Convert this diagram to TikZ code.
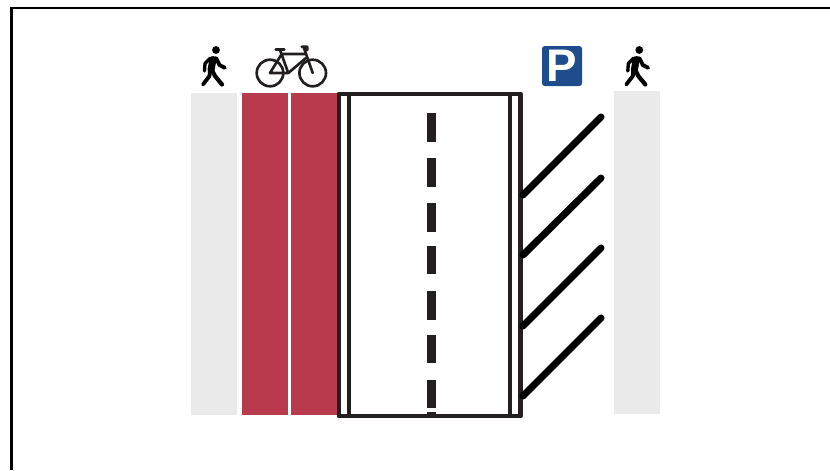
\documentclass[tikz,border=0pt]{standalone}
\usepackage{fontspec}
\setmainfont{Liberation Sans}
\definecolor{roadblack}{HTML}{231F20}
\definecolor{lanered}{HTML}{B93A4C}
\definecolor{walkgray}{HTML}{EAEAEA}
\definecolor{signblue}{HTML}{1F4C8C}
\tikzset{
  walklane/.style={fill=walkgray,draw=none},
  bikelane/.style={fill=lanered,draw=none},
  roadline/.style={draw=roadblack,line width=2.8pt,line join=round},
  dashline/.style={fill=roadblack,draw=none},
  bayline/.style={draw=black,line width=4pt,line cap=round},
  bikeline/.style={draw=roadblack,line width=1.5pt,line cap=round,line join=round},
  walkerlimb/.style={draw=black,line cap=round,line join=round},
  walker/.pic={
    \fill[black] (0,0) circle (3.9);
    \draw[walkerlimb,line width=4pt] (-3,9.5) -- (-5,20);
    \draw[walkerlimb,line width=1.9pt] (-5.5,8) -- (-11,13.5) -- (-11.5,21);
    \draw[walkerlimb,line width=2.2pt] (0,8) -- (3.5,15) -- (8.8,17.8);
    \draw[walkerlimb,line width=2.2pt] (-6,21) -- (-6.5,26) -- (-13,34.5);
    \draw[walkerlimb,line width=2.4pt] (-3.5,21) -- (-1,26) -- (6,34.5);
  }
}
\begin{document}
\begin{tikzpicture}[x=0.02cm,y=-0.02cm]
  \useasboundingbox (0,0) rectangle (830,470);
  \draw[black,line width=1.2pt] (11.5,470) -- (11.5,8) -- (830,8);
  \fill[walklane] (191,93) rectangle (237,415);
  \fill[bikelane] (242,93) rectangle (288,415);
  \fill[bikelane] (291,93) rectangle (338,415);
  \fill[walklane] (614,91) rectangle (660,414);
  \draw[roadline] (339,94) rectangle (520.5,416);
  \draw[roadline] (349,94) -- (349,416);
  \draw[roadline] (510,94) -- (510,416);
  \foreach \ytop/\ybot in {113/142,158/187,203/232,246/274,291/320,335/363,380/408,412/416}
    \fill[dashline] (426.5,\ytop) rectangle (435.5,\ybot);
  \foreach \ylow/\yhigh in {195/117,255/178,326/248,396/318}
    \draw[bayline] (523,\ylow) -- (601,\yhigh);
  \pic at (216,50) {walker};
  \pic at (639.3,50) {walker};
  \draw[bikeline] (270,73) circle (13.3);
  \draw[bikeline] (312.7,73) circle (13.3);
  \draw[bikeline] (270,73) -- (288.3,73) -- (280,50) (270,73) -- (281.7,54) -- (306,54) (288.3,73) -- (306,58);
  \draw[bikeline] (301.7,46.7) -- (307.3,46.7) -- (307.3,50) (303.5,46.7) -- (312.7,73);
  \draw[bikeline] (275.7,49.3) -- (284.3,49.3);
  \fill[signblue,rounded corners=1.5pt] (542,46) rectangle (582,86);
  \node[text=white,font=\bfseries\fontsize{26}{26}\selectfont,inner sep=0pt,anchor=center] (parksign) at (562,66) {P};
\end{tikzpicture}
\end{document}
